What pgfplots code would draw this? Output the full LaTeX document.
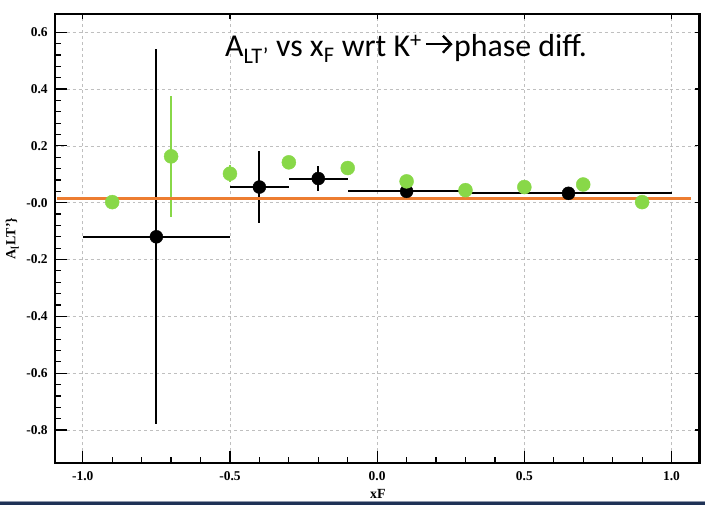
\documentclass[border=0pt]{standalone}
\usepackage{fontspec}
\setmainfont{Liberation Serif}
\newfontfamily\carlito{Carlito}
\usepackage{pgfplots}
\usepackage{pgfplotstable}
\pgfplotsset{compat=1.18}
\definecolor{lgreen}{RGB}{136,216,72}
\definecolor{orng}{RGB}{237,125,49}
\definecolor{navy}{RGB}{31,50,86}

\pgfplotstableread{
x     y      ex    ey
-0.75 -0.120 0.25  0.660
-0.40  0.055 0.10  0.127
-0.20  0.085 0.10  0.045
 0.10  0.040 0.20  0.010
 0.65  0.033 0.35  0.010
}\blackdata

\pgfplotstableread{
x     y      ey
-0.90  0.002 0.0
-0.70  0.163 0.213
-0.50  0.102 0.030
-0.30  0.142 0.0
-0.10  0.122 0.0
 0.10  0.075 0.0
 0.30  0.044 0.0
 0.50  0.055 0.0
 0.70  0.064 0.0
 0.90  0.002 0.0
}\greendata

\pgfplotsset{
  frame/.style={
    at={(54.8bp,41.7bp)}, anchor=south west,
    width=644.7bp, height=449.6bp, scale only axis,
    xmin=-1.095, xmax=1.095, ymin=-0.917, ymax=0.665,
    xtick={-1,-0.5,0,0.5,1},
    ytick={-0.8,-0.6,-0.4,-0.2,0,0.2,0.4,0.6},
    tick align=inside,
    tick style={black, line width=1.2bp},
  }
}

\begin{document}
\begin{tikzpicture}
\path[use as bounding box] (0,0) rectangle (705bp,505bp);
\fill[navy] (0,0) rectangle (705bp,3.5bp);
\draw[navy!50, line width=0.6bp] (0,3.6bp) -- (705bp,3.6bp);
\begin{axis}[
  frame,
  axis line style={line width=2.2bp},
  tick pos=left,
  major tick length=12bp, minor tick length=6bp,
  xticklabels={\textbf{-1.0},\textbf{-0.5},\textbf{0.0},\textbf{0.5},\textbf{1.0}},
  minor x tick num=4,
  yticklabels={\textbf{-0.8},\textbf{-0.6},\textbf{-0.4},\textbf{-0.2},\textbf{-0.0},\textbf{0.2},\textbf{0.4},\textbf{0.6}},
  minor y tick num=4,
  grid=major, major grid style={dashed, black!25, line width=0.6bp},
  xticklabel style={font=\fontsize{13.5}{15}\selectfont, inner sep=0pt, yshift=-8bp},
  yticklabel style={font=\fontsize{13.5}{15}\selectfont, inner sep=0pt, xshift=-7bp},
  xlabel={\textbf{xF}},
  ylabel={\textbf{A\textsubscript{[}LT'\}}},
  every axis x label/.style={at={(axis description cs:0.5013,-0.068)}, anchor=center, font=\fontsize{14}{15}\selectfont},
  every axis y label/.style={at={(axis description cs:-0.066,0.5)}, anchor=center, rotate=90, font=\fontsize{14}{15}\selectfont},
  clip=false,
]
\addplot[only marks, mark=*, black, mark size=6.5bp,
  error bars/.cd, x dir=both, x explicit, y dir=both, y explicit,
  error mark=none, error bar style={line width=2bp, black}]
  table[x=x, y=y, x error=ex, y error=ey] {\blackdata};
\addplot[only marks, mark=*, lgreen, mark size=7bp,
  error bars/.cd, y dir=both, y explicit,
  error mark=none, error bar style={line width=2bp, lgreen}]
  table[x=x, y=y, y error=ey] {\greendata};
\addplot[orng, line width=3bp] coordinates {(-1.087,0.015) (1.066,0.015)};
\end{axis}
\begin{axis}[
  frame,
  axis line style={line width=2.2bp},
  tick pos=right,
  major tick length=5bp,
  xticklabels={}, yticklabels={},
  minor tick num=0,
]
\end{axis}
\node[anchor=base west, inner sep=0pt, font=\carlito\fontsize{32}{36}\selectfont] (t1)
  at (225bp,448.3bp) {A\textsubscript{LT’} vs x\textsubscript{F} wrt K\textsuperscript{+}};
\draw[line width=2.4bp, line cap=butt] ([xshift=4bp,yshift=12.5bp]t1.base east) -- ++(26bp,0);
\draw[line width=2.4bp, line join=miter, line cap=butt]
  ([xshift=21bp,yshift=21bp]t1.base east) -- ([xshift=29bp,yshift=12.5bp]t1.base east) -- ([xshift=21bp,yshift=4bp]t1.base east);
\node[anchor=base west, inner sep=0pt, font=\carlito\fontsize{32}{36}\selectfont]
  at ([xshift=32bp]t1.base east) {phase diff.};
\end{tikzpicture}
\end{document}
